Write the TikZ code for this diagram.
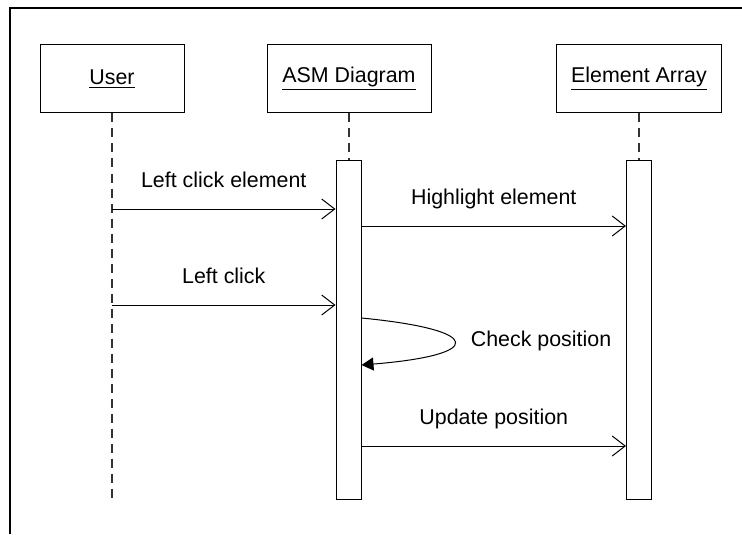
\documentclass[tikz,border=0pt]{standalone}
\usepackage{fontspec}
\setmainfont{Liberation Sans}
\usetikzlibrary{arrows.meta}
\begin{document}
\begin{tikzpicture}[x=0.5pt, y=-0.5pt, font=\fontsize{10.7}{13}\selectfont,
    head/.style={draw, line width=0.5pt, minimum height=34pt, inner sep=0pt},
    bar/.style={draw, fill=white, line width=0.5pt, minimum width=12.5pt, minimum height=169pt, inner sep=0pt},
    life/.style={line width=0.75pt, black!80, dash pattern=on 4.5pt off 3pt},
    msg/.style={line width=0.5pt, -{Straight Barb[length=6.5pt, width=10pt]}},
    selfmsg/.style={line width=0.5pt, -{Triangle[length=6pt, width=6.5pt]}},
    lbl/.style={anchor=base, yshift=11pt}]
    \useasboundingbox (0,0) rectangle (742,534);
    % Frame
    \draw[line width=1pt] (10,534) -- (10,8.5) -- (742,8.5);
    % Lifeline heads
    \node[head, minimum width=72pt] (user) at (112,79) {\underline{User}};
    \node[head, minimum width=82pt] (asm) at (349,79) {\underline{ASM Diagram}};
    \node[head, minimum width=82.5pt] (array) at (639,79) {\underline{Element Array}};
    % Activation bars
    \node[bar] (asmbar) at (348.5,330) {};
    \node[bar] (arraybar) at (639,330) {};
    \coordinate (userend) at (112,499);
    % Lifelines
    \draw[life] (user.south) -- (userend);
    \draw[life] (asm.south) -- (asm.south |- asmbar.north);
    \draw[life] (array.south) -- (array.south |- arraybar.north);
    % Messages
    \coordinate (m1) at (112,209);
    \coordinate (m2) at (361,226);
    \coordinate (m3) at (112,305);
    \coordinate (s1) at (361,318);
    \coordinate (s2) at (361,365);
    \coordinate (m4) at (361,446);
    \draw[msg] (m1) -- (asmbar.west |- m1) node[midway, lbl] {Left click element};
    \draw[msg] (asmbar.east |- m2) -- (arraybar.west |- m2) node[midway, lbl] {Highlight element};
    \draw[msg] (m3) -- (asmbar.west |- m3) node[midway, lbl] {Left click};
    \draw[selfmsg] (asmbar.east |- s1) .. controls (485,330) and (485,355) .. (asmbar.east |- s2);
    \node (check) at (541,341) {Check position};
    \draw[msg] (asmbar.east |- m4) -- (arraybar.west |- m4) node[midway, lbl] {Update position};
\end{tikzpicture}
\end{document}
